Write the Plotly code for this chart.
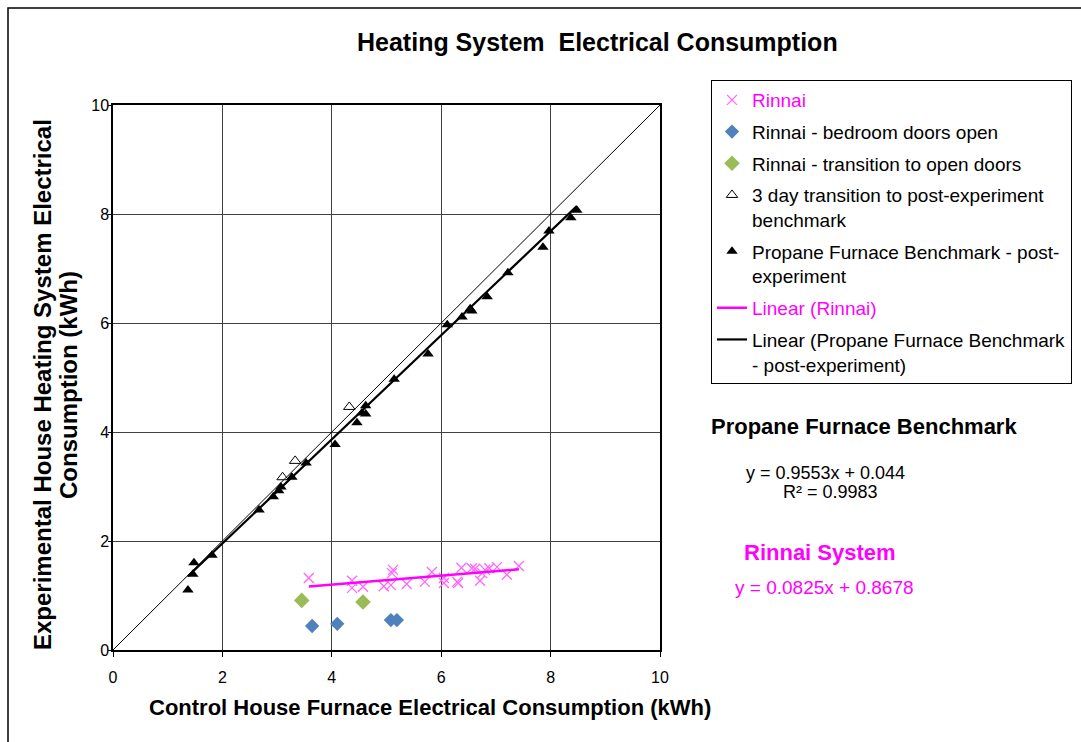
import plotly.graph_objects as go

# ---------------- data ----------------
rinnai_x = [3.58, 4.37, 4.37, 4.57, 4.95, 5.12, 5.10, 5.08, 5.37, 5.70, 5.83, 6.05,
            6.05, 6.29, 6.31, 6.37, 6.56, 6.62, 6.71, 6.75, 6.80, 6.88, 7.02, 7.20, 7.42]
rinnai_y = [1.32, 1.27, 1.14, 1.16, 1.17, 1.47, 1.41, 1.19, 1.21, 1.25, 1.43, 1.32,
            1.23, 1.25, 1.23, 1.51, 1.50, 1.49, 1.27, 1.41, 1.47, 1.50, 1.52, 1.38, 1.54]

bedroom_x = [3.64, 4.10, 5.08, 5.19]
bedroom_y = [0.44, 0.48, 0.55, 0.55]

transition_x = [3.45, 4.57]
transition_y = [0.91, 0.88]

three_day_x = [3.10, 3.33, 4.32]
three_day_y = [3.17, 3.47, 4.46]

propane_x = [1.37, 1.48, 1.46, 1.81, 2.67, 2.93, 3.03, 3.07, 3.27, 3.53, 4.06, 4.46, 4.55,
             4.62, 4.62, 5.14, 5.76, 6.11, 6.38, 6.53, 6.56, 6.84, 7.22, 7.86, 7.97, 8.37, 8.48]
propane_y = [1.10, 1.60, 1.39, 1.74, 2.57, 2.81, 2.92, 2.99, 3.17, 3.43, 3.77, 4.17, 4.35,
             4.33, 4.48, 4.97, 5.43, 5.97, 6.11, 6.26, 6.22, 6.48, 6.92, 7.39, 7.69, 7.93, 8.07]

rinnai_slope, rinnai_intercept = 0.0825, 0.8678
propane_slope, propane_intercept = 0.9553, 0.044
propane_r2 = 0.9983

identity_line = [0, 10]
axis_ticks = [0, 2, 4, 6, 8, 10]

# ---------------- figure ----------------
FONT = "Liberation Sans, Arial, sans-serif"
W, H = 1081, 742
L, R, T, B = 113, 660, 105, 650   # plot area in px


def px2x(px):
    return (px - L) / (R - L)


def px2y(py):
    return (B - py) / (B - T)


fig = go.Figure()

# identity line (y = x)
fig.add_trace(go.Scatter(x=identity_line, y=identity_line, mode="lines",
                         line=dict(color="black", width=1), showlegend=False,
                         hoverinfo="skip"))

fig.add_trace(go.Scatter(
    x=rinnai_x, y=rinnai_y, mode="markers", legendgroup="g1",
    name="<span style='color:#FF00FF'>Rinnai</span>",
    marker=dict(symbol="x-thin", size=10, color="#FF66FF",
                line=dict(color="#FF66FF", width=1.3))))

fig.add_trace(go.Scatter(
    x=bedroom_x, y=bedroom_y, mode="markers", legendgroup="g2",
    name="Rinnai - bedroom doors open",
    marker=dict(symbol="diamond", size=11, color="#4F81BD")))

fig.add_trace(go.Scatter(
    x=transition_x, y=transition_y, mode="markers", legendgroup="g3",
    name="Rinnai - transition to open doors",
    marker=dict(symbol="diamond", size=12, color="#9BBB59")))

fig.add_trace(go.Scatter(
    x=three_day_x, y=three_day_y, mode="markers", legendgroup="g4",
    name="3 day transition to post-experiment<br>benchmark",
    marker=dict(symbol="triangle-up-open", size=10, color="black",
                line=dict(color="black", width=1))))

fig.add_trace(go.Scatter(
    x=propane_x, y=propane_y, mode="markers", legendgroup="g5",
    name="Propane Furnace Benchmark - post-<br>experiment",
    marker=dict(symbol="triangle-up", size=10, color="black")))

rx = [min(rinnai_x), max(rinnai_x)]
fig.add_trace(go.Scatter(
    x=rx, y=[rinnai_slope * v + rinnai_intercept for v in rx], mode="lines",
    legendgroup="g6", name="<span style='color:#FF00FF'>Linear (Rinnai)</span>",
    line=dict(color="#FF00FF", width=2.5)))

pxr = [min(propane_x), max(propane_x)]
fig.add_trace(go.Scatter(
    x=pxr, y=[propane_slope * v + propane_intercept for v in pxr], mode="lines",
    legendgroup="g7", name="Linear (Propane Furnace Benchmark<br>- post-experiment)",
    line=dict(color="black", width=2.2)))

axis_common = dict(range=[0, 10], tickvals=axis_ticks, showgrid=True,
                   gridcolor="#404040", gridwidth=1, zeroline=False,
                   showline=True, linecolor="black", linewidth=1.5, mirror=True,
                   ticks="outside", tickcolor="black",
                   tickfont=dict(family=FONT, size=16, color="black"))

fig.update_xaxes(**axis_common, ticklen=5, ticklabelstandoff=7)
fig.update_yaxes(**axis_common, ticklen=3, ticklabelstandoff=-4)

annotations = [
    dict(text="<b>Heating System  Electrical Consumption</b>", x=px2x(597), y=px2y(42),
         font=dict(size=25, color="black")),
    dict(text="<b>Control House Furnace Electrical Consumption (kWh)</b>",
         x=px2x(430), y=px2y(708), font=dict(size=22, color="black")),
    dict(text="<b>Experimental House Heating System Electrical</b>",
         x=px2x(42), y=px2y(385), textangle=-90, font=dict(size=24, color="black")),
    dict(text="<b>Consumption (kWh)</b>",
         x=px2x(68), y=px2y(385), textangle=-90, font=dict(size=24, color="black")),
    dict(text="<b>Propane Furnace Benchmark</b>", x=px2x(709), y=px2y(427),
         xanchor="left", font=dict(size=22, color="black")),
    dict(text=f"y = {propane_slope}x + {propane_intercept}", x=px2x(825), y=px2y(473),
         font=dict(size=18, color="black")),
    dict(text=f"R² = {propane_r2}", x=px2x(830), y=px2y(492),
         font=dict(size=18, color="black")),
    dict(text="<b>Rinnai System</b>", x=px2x(820), y=px2y(552),
         font=dict(size=22, color="#FF00FF")),
    dict(text=f"y = {rinnai_slope}x + {rinnai_intercept}", x=px2x(824), y=px2y(587),
         font=dict(size=19, color="#FF00FF")),
]
for a in annotations:
    a.setdefault("xanchor", "center")
    a.update(xref="paper", yref="paper", yanchor="middle", showarrow=False)
    a["font"]["family"] = FONT

fig.update_layout(
    width=W, height=H,
    margin=dict(l=L, r=W - R, t=T, b=H - B, autoexpand=False),
    paper_bgcolor="white", plot_bgcolor="white",
    font=dict(family=FONT, color="black"),
    annotations=annotations,
    showlegend=True,
    legend=dict(x=px2x(711), y=px2y(80), xanchor="left", yanchor="top",
                bgcolor="white", bordercolor="black", borderwidth=1,
                font=dict(family=FONT, size=19, color="black"),
                tracegroupgap=4, valign="top", traceorder="grouped"),
    shapes=[dict(type="rect", xref="paper", yref="paper",
                 x0=px2x(8), x1=px2x(1100), y0=px2y(760), y1=px2y(8),
                 line=dict(color="black", width=1.5), layer="below")],
)

fig.write_html("out.html")
